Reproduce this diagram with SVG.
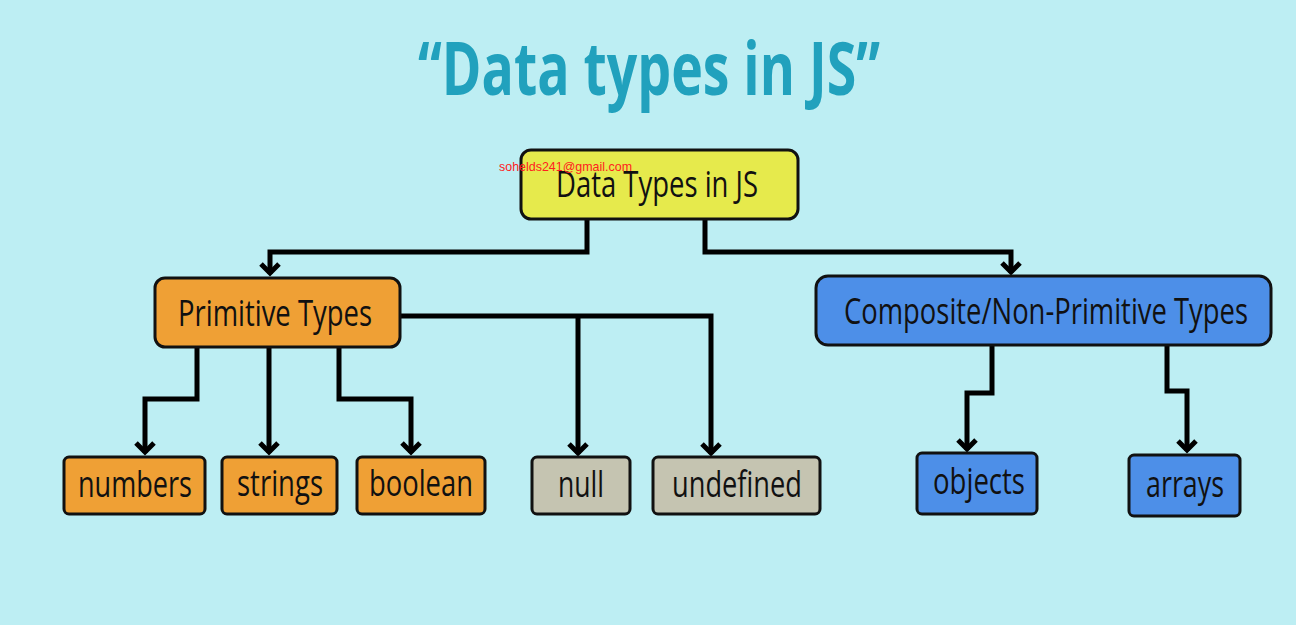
<svg xmlns="http://www.w3.org/2000/svg" width="1296" height="625" viewBox="0 0 1296 625">
<style>
.box{stroke:#111;stroke-width:3}
.lbl{font-family:"Open Sans","Liberation Sans",sans-serif;font-size:36px;fill:#111;text-anchor:middle}
.c{fill:none;stroke:#000;stroke-width:5;stroke-linejoin:miter}
.y{fill:#e6ea4c}.o{fill:#efa035}.b{fill:#4d8fe8}.g{fill:#c5c4b1}
</style>
<defs>
<marker id="ah" viewBox="0 0 24 24" refX="20" refY="12" markerWidth="24" markerHeight="24" markerUnits="userSpaceOnUse" orient="auto">
<path d="M10 3 L19 12 L10 21" fill="none" stroke="#000" stroke-width="5"/>
</marker>
</defs>
<rect width="1296" height="625" fill="#bdeef3"/>
<text x="649" y="95" font-family="Open Sans, Liberation Sans, sans-serif" font-weight="bold" font-size="74" fill="#21a1bd" text-anchor="middle" textLength="462" lengthAdjust="spacingAndGlyphs">“Data types in JS”</text>
<g id="connectors">
<path class="c" d="M587 219 V252 H270 V274" marker-end="url(#ah)"/>
<path class="c" d="M705 219 V252 H1011 V273" marker-end="url(#ah)"/>
<path class="c" d="M197 347 V399 H145 V453" marker-end="url(#ah)"/>
<path class="c" d="M269 347 V453" marker-end="url(#ah)"/>
<path class="c" d="M339 347 V399 H411 V453" marker-end="url(#ah)"/>
<path class="c" d="M400 316 H711 V454" marker-end="url(#ah)"/>
<path class="c" d="M578 316 V454" marker-end="url(#ah)"/>
<path class="c" d="M992 345 V393 H967 V450" marker-end="url(#ah)"/>
<path class="c" d="M1167 345 V391 H1187 V451" marker-end="url(#ah)"/>
</g>
<g id="root">
<rect class="box y" x="521" y="150" width="277" height="69" rx="10"/>
<text class="lbl" x="657" y="197" textLength="202" lengthAdjust="spacingAndGlyphs">Data Types in JS</text>
</g>
<g id="primitive">
<rect class="box o" x="155" y="278" width="245" height="69" rx="10"/>
<text class="lbl" x="275" y="326" textLength="194" lengthAdjust="spacingAndGlyphs">Primitive Types</text>
</g>
<g id="composite">
<rect class="box b" x="816" y="276" width="455" height="69" rx="12"/>
<text class="lbl" x="1046" y="324" textLength="404" lengthAdjust="spacingAndGlyphs">Composite/Non-Primitive Types</text>
</g>
<g id="numbers">
<rect class="box o" x="64" y="457" width="141" height="57" rx="5"/>
<text class="lbl" x="135" y="497" textLength="114" lengthAdjust="spacingAndGlyphs">numbers</text>
</g>
<g id="strings">
<rect class="box o" x="222" y="457" width="115" height="57" rx="5"/>
<text class="lbl" x="280" y="496" textLength="86" lengthAdjust="spacingAndGlyphs">strings</text>
</g>
<g id="boolean">
<rect class="box o" x="357" y="457" width="128" height="57" rx="5"/>
<text class="lbl" x="421" y="496" textLength="104" lengthAdjust="spacingAndGlyphs">boolean</text>
</g>
<g id="null">
<rect class="box g" x="532" y="457" width="98" height="57" rx="5"/>
<text class="lbl" x="581" y="497" textLength="46" lengthAdjust="spacingAndGlyphs">null</text>
</g>
<g id="undefined">
<rect class="box g" x="653" y="457" width="167" height="57" rx="5"/>
<text class="lbl" x="737" y="497" textLength="130" lengthAdjust="spacingAndGlyphs">undefined</text>
</g>
<g id="objects">
<rect class="box b" x="917" y="453" width="120" height="61" rx="5"/>
<text class="lbl" x="979" y="494" textLength="92" lengthAdjust="spacingAndGlyphs">objects</text>
</g>
<g id="arrays">
<rect class="box b" x="1129" y="455" width="111" height="61" rx="5"/>
<text class="lbl" x="1185" y="497" textLength="78" lengthAdjust="spacingAndGlyphs">arrays</text>
</g>
<text x="499" y="171" font-family="Liberation Sans, Arial, sans-serif" font-size="13" fill="#ff2020" textLength="133" lengthAdjust="spacingAndGlyphs">sohelds241@gmail.com</text>
</svg>
